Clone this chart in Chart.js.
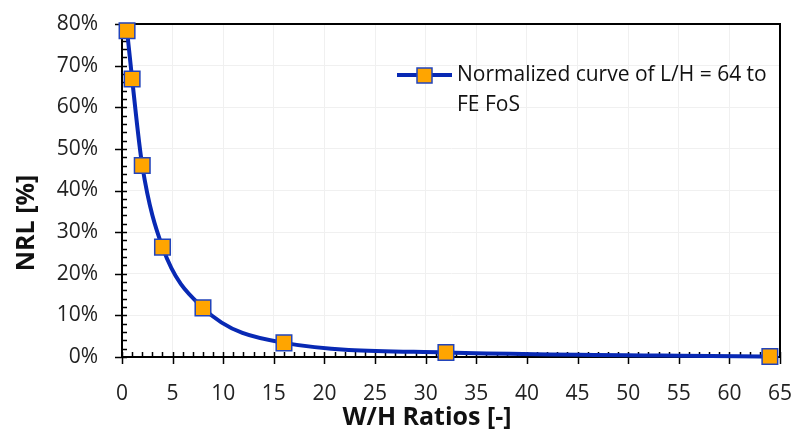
<!DOCTYPE html>
<html>
<head>
<meta charset="utf-8">
<script src="https://cdn.jsdelivr.net/npm/chart.js@4.4.1/dist/chart.umd.min.js"></script>
<style>
  html, body { margin: 0; padding: 0; background: #fff; }
  #wrap { width: 794px; height: 441px; }
</style>
</head>
<body>
<div id="wrap"><canvas id="nrlChart" width="794" height="441"></canvas></div>
<script>
// ── Data ─────────────────────────────────────────────────────
const whRatios = [0.5, 1, 2, 4, 8, 16, 32, 64];
const nrlValues = [78.4, 66.8, 46.0, 26.4, 11.8, 3.4, 1.1, 0.1];
const seriesLabel = 'Normalized curve of L/H = 64 to FE FoS';
const legendLines = ['Normalized curve of L/H = 64 to', 'FE FoS'];
const xTitle = 'W/H Ratios [-]';
const yTitle = 'NRL [%]';

const FONT = '"Open Sans", "Liberation Sans", sans-serif';
const LINE_BLUE = '#0829b4';
const MARK_FILL = '#ffa500';
const MARK_EDGE = '#2244bb';

// ── Ticks, frame, titles, legend ─────────────────────────────
const decorPlugin = {
  id: 'decor',
  beforeDatasetsDraw(chart) {
    const { ctx, chartArea: a, scales: { x, y } } = chart;
    ctx.save();
    ctx.strokeStyle = '#000';
    ctx.lineWidth = 2;
    // frame top + right
    ctx.beginPath();
    ctx.moveTo(a.left, a.top); ctx.lineTo(a.right, a.top); ctx.lineTo(a.right, a.bottom);
    ctx.stroke();
    ctx.lineWidth = 1.5;
    ctx.beginPath();
    for (let v = 0; v <= 65; v += 1) {
      const px = Math.round(x.getPixelForValue(v)) + 0.5;
      if (v % 5 === 0) { ctx.moveTo(px, a.bottom - 5); ctx.lineTo(px, a.bottom + 7); }
      else { ctx.moveTo(px, a.bottom - 5); ctx.lineTo(px, a.bottom); }
    }
    for (let v = 0; v <= 80; v += 2) {
      const py = Math.round(y.getPixelForValue(v)) + 0.5;
      if (v % 10 === 0) { ctx.moveTo(a.left - 7, py); ctx.lineTo(a.left + 5, py); }
      else { ctx.moveTo(a.left, py); ctx.lineTo(a.left + 5, py); }
    }
    ctx.stroke();
    ctx.restore();
  },
  afterDraw(chart) {
    const { ctx } = chart;
    ctx.save();
    ctx.fillStyle = '#111';
    ctx.font = 'bold 25px ' + FONT;
    ctx.textAlign = 'center';
    ctx.textBaseline = 'middle';
    ctx.fillText(xTitle, 427, 418);
    ctx.translate(27, 223);
    ctx.rotate(-Math.PI / 2);
    ctx.fillText(yTitle, 0, 0);
    ctx.restore();

    // legend
    ctx.save();
    ctx.strokeStyle = LINE_BLUE;
    ctx.lineWidth = 4;
    ctx.beginPath(); ctx.moveTo(397, 75); ctx.lineTo(452, 75); ctx.stroke();
    ctx.fillStyle = MARK_FILL;
    ctx.strokeStyle = MARK_EDGE;
    ctx.lineWidth = 1.5;
    ctx.fillRect(417, 68, 15, 15);
    ctx.strokeRect(417, 68, 15, 15);
    ctx.fillStyle = '#111';
    ctx.font = '21px ' + FONT;
    ctx.textAlign = 'left';
    ctx.textBaseline = 'middle';
    legendLines.forEach((t, i) => ctx.fillText(t, 457, 75 + i * 30));
    ctx.restore();
  }
};

// ── Chart ────────────────────────────────────────────────────
new Chart(document.getElementById('nrlChart'), {
  type: 'line',
  data: {
    datasets: [{
      label: seriesLabel,
      data: whRatios.map((w, i) => ({ x: w, y: nrlValues[i] })),
      borderColor: LINE_BLUE,
      borderWidth: 4,
      cubicInterpolationMode: 'monotone',
      pointStyle: 'rect',
      pointRadius: 11,
      pointBackgroundColor: MARK_FILL,
      pointBorderColor: MARK_EDGE,
      pointBorderWidth: 1.5,
      clip: false
    }]
  },
  options: {
    responsive: false,
    devicePixelRatio: 1,
    animation: false,
    layout: { padding: { top: 24, right: 14, left: 0, bottom: 0 } },
    plugins: { legend: { display: false }, tooltip: { enabled: false } },
    scales: {
      x: {
        type: 'linear',
        min: 0, max: 65,
        afterFit: s => { s.height = 84; s.paddingLeft = 0; s.paddingRight = 0; },
        ticks: { stepSize: 5, padding: 24, color: '#222', font: { family: FONT, size: 21 } },
        grid: { color: '#f0f0f0', lineWidth: 1, drawTicks: false },
        border: { color: '#000', width: 2 }
      },
      y: {
        min: 0, max: 80,
        afterFit: s => { s.width = 122; s.paddingTop = 0; s.paddingBottom = 0; },
        ticks: {
          stepSize: 10, padding: 24, color: '#222',
          font: { family: FONT, size: 21 },
          callback: v => v + '%'
        },
        grid: { color: '#f0f0f0', lineWidth: 1, drawTicks: false },
        border: { color: '#000', width: 2 }
      }
    }
  },
  plugins: [decorPlugin]
});
</script>
</body>
</html>
